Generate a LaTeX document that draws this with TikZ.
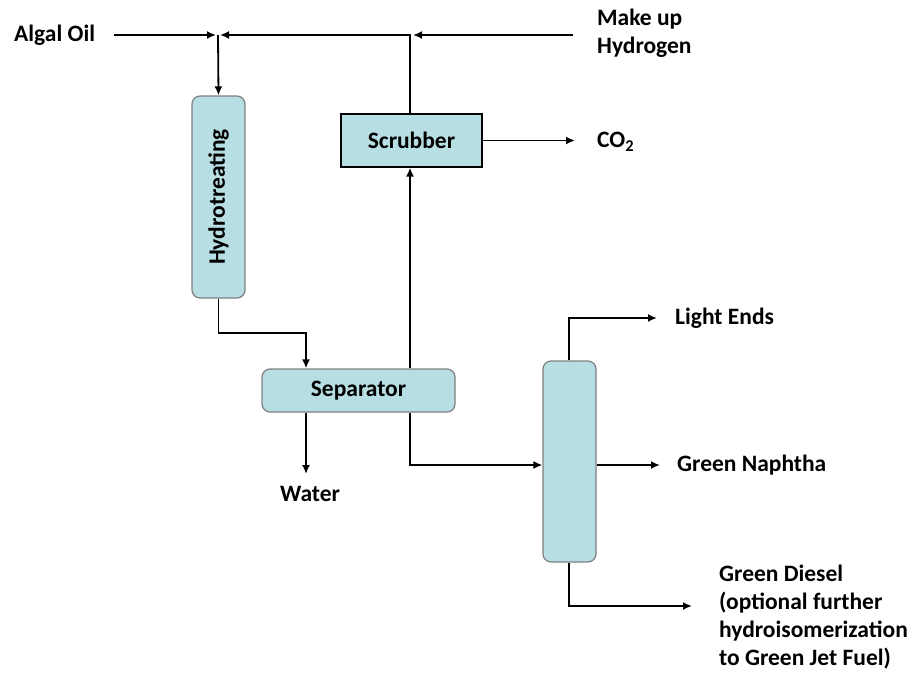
\documentclass[tikz,border=0pt]{standalone}
\usepackage{fontspec}
\setmainfont{Carlito}
\usetikzlibrary{arrows.meta}
\definecolor{boxfill}{HTML}{B7DEE3}
\definecolor{boxline}{HTML}{7F7F7F}
\tikzset{
  arr/.style={line width=1.8pt,-{Latex[length=9pt,width=8pt]}},
  vessel/.style={draw=boxline,line width=1.2pt,fill=boxfill,rounded corners=8pt,inner sep=0pt},
  plain/.style={draw=black,line width=1.2pt,fill=boxfill,inner sep=0pt},
  lbl/.style={inner sep=0pt,font=\bfseries\fontsize{23.5}{28}\selectfont,align=left}
}
\begin{document}
\begin{tikzpicture}[x=1pt,y=-1pt]
\useasboundingbox (0,0) rectangle (914,673);
% boxes
\node[vessel,minimum width=53pt,minimum height=202pt] (hydro) at (218.5,197) {};
\node[lbl,rotate=90] at (hydro.center) {Hydrotreating};
\node[plain,minimum width=141pt,minimum height=53pt,lbl] (scr) at (411.5,140.5) {Scrubber};
\node[vessel,minimum width=193pt,minimum height=43pt,lbl] (sep) at (358.5,390.5) {Separator};
\node[vessel,minimum width=53pt,minimum height=201pt] (col) at (569.5,461.5) {};
% labels
\node[lbl,anchor=west] (algal) at (14,35) {Algal Oil};
\node[lbl,anchor=west] (h2) at (597,33) {Make up\\Hydrogen};
\node[lbl,anchor=west] (co2) at (597,142) {CO\textsubscript{2}};
\node[lbl,anchor=west] (light) at (675,318) {Light Ends};
\node[lbl,anchor=west] (naph) at (677,465) {Green Naphtha};
\node[lbl] (water) at (310,494) {Water};
\node[lbl,anchor=west] (diesel) at (719,617) {Green Diesel\\(optional further\\hydroisomerization\\to Green Jet Fuel)};
% junction coordinates
\coordinate (feed) at (218,35);
\coordinate (rec) at (410,35);
\coordinate (j1) at (306,333);
\coordinate (j2) at (410,465);
\coordinate (wend) at (306,474);
\coordinate (lt) at (569,318);
\coordinate (db) at (569,606);
% connectors
\draw[arr] (algal.east) ++(19,0) -- ([xshift=-2pt]feed);
\draw[arr] (h2.west |- rec) ++(-24,0) -- ([xshift=3pt]rec);
\draw[arr] (scr.north -| rec) -- (rec) -- ([xshift=2pt]feed);
\draw[arr] (feed) -- (hydro.north);
\draw[arr] (hydro.south) |- (j1) -- (j1 |- sep.north);
\draw[arr] (sep.north -| j2) -- (scr.south -| j2);
\draw[arr] (j1 |- sep.south) -- (wend);
\draw[arr] (sep.south -| j2) -- (j2) -- (j2 -| col.west);
\draw[arr] (scr.east) -- ([xshift=-22pt]co2.west |- scr.east);
\draw[arr] (col.north -| lt) -- (lt) -- ([xshift=-18pt]light.west |- lt);
\draw[arr] (col.east |- naph.west) -- ([xshift=-17pt]naph.west);
\draw[arr] (col.south -| db) -- (db) -- (692,606);
\end{tikzpicture}
\end{document}
